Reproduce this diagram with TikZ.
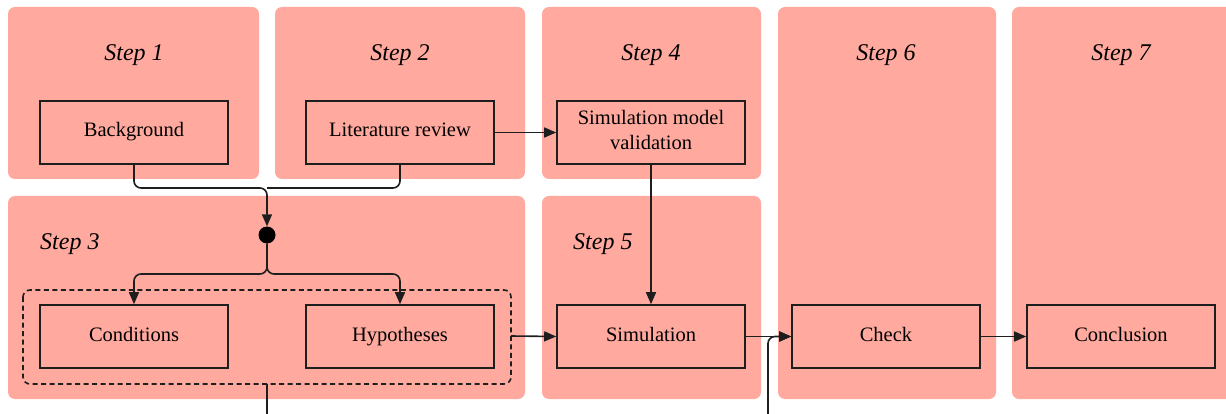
\documentclass[tikz,border=0pt]{standalone}
\usepackage{fontspec}
\setmainfont{Liberation Serif}
\usetikzlibrary{arrows.meta,positioning}
\definecolor{panelc}{HTML}{FFA99F}
\definecolor{linec}{HTML}{1E1E1E}
\begin{document}
\begin{tikzpicture}[x=1pt,y=-1pt,
  panel/.style={fill=panelc,draw=none,rounded corners=7pt},
  box/.style={draw=linec,line width=1.6pt,fill=panelc,minimum width=188pt,minimum height=63pt,inner sep=0pt,font=\fontsize{20.5}{25}\selectfont,align=center,text height=14pt,text depth=5pt},
  steplbl/.style={font=\fontsize{24}{28}\selectfont\itshape,inner sep=0pt,text height=17pt,text depth=6pt},
  conn/.style={draw=linec,line width=1.6pt,rounded corners=7pt},
  arr/.style={conn,-{Triangle[length=12pt,width=10pt]}}
]
\useasboundingbox (0,0) rectangle (1226,414);
\fill[white] (0,0) rectangle (1226,414);
% panels
\fill[panel] (8,7) rectangle (259,179);
\fill[panel] (275,7) rectangle (525,179);
\fill[panel] (542,7) rectangle (761,179);
\fill[panel] (778,7) rectangle (996,399);
\fill[panel] (1012,7) rectangle (1240,399);
\fill[panel] (8,196) rectangle (525,399);
\fill[panel] (542,196) rectangle (761,399);
% step labels
\node[steplbl] (s1) at (134,55) {Step 1};
\node[steplbl] (s2) at (400,55) {Step 2};
\node[steplbl] (s4) at (651,55) {Step 4};
\node[steplbl] (s6) at (886,55) {Step 6};
\node[steplbl] (s7) at (1121,55) {Step 7};
\node[steplbl,anchor=west] (s3) at (40,244) {Step 3};
\node[steplbl,anchor=west] (s5) at (573,244) {Step 5};
% dashed group
\draw[linec,line width=1.6pt,dashed,dash pattern=on 5pt off 3.5pt,rounded corners=7pt] (23,290) rectangle (511,384);
\coordinate (grpR) at (511,336);
\coordinate (grpB) at (267,384);
% boxes
\node[box] (bg) at (134,132.5) {Background};
\node[box] (lit) at (400,132.5) {Literature review};
\node[box,text height=,text depth=,minimum height=63pt] (smv) at (651,132.5) {\raisebox{2pt}{\begin{tabular}{@{}c@{}}Simulation model\\validation\end{tabular}}};
\node[box] (cond) at (134,336.5) {Conditions};
\node[box] (hyp) at (400,336.5) {Hypotheses};
\node[box] (sim) at (651,336.5) {Simulation};
\node[box] (chk) at (886,336.5) {Check};
\node[box] (con) at (1121,336.5) {Conclusion};
% dot
\node[circle,fill=black,inner sep=0pt,minimum size=17pt] (dot) at (267,235) {};
% connectors
\draw[arr] (bg.south) |- (267,188) -- (dot.north);
\draw[conn] (lit.south) |- (267,188);
\draw[arr] (dot.south) -- (267,274) -| (cond.north);
\draw[arr] (dot.south) -- (267,274) -| (hyp.north);
\draw[arr] (lit.east) -- (smv.west);
\draw[arr] (smv.south) -- (sim.north);
\draw[arr] (grpR) -- (sim.west);
\draw[arr] (sim.east) -- (chk.west);
\draw[arr] (grpB) -- (267,430) -| (768,336.5) -- (chk.west);
\draw[arr] (chk.east) -- (con.west);
\end{tikzpicture}
\end{document}
